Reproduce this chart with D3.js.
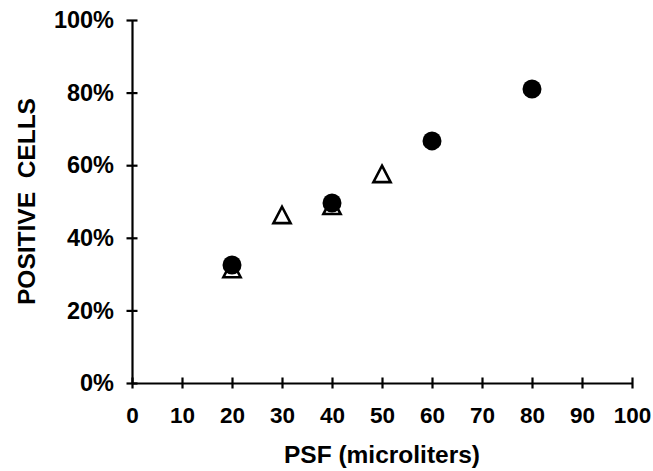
<!DOCTYPE html>
<html>
<head>
<meta charset="utf-8">
<script src="https://cdn.jsdelivr.net/npm/d3@7"></script>
<style>
  html, body { margin: 0; padding: 0; background: #fff; }
  text { font-family: "Liberation Sans", Arial, Helvetica, sans-serif; font-weight: bold; fill: #000; }
</style>
</head>
<body>
<svg id="chart" width="653" height="471"></svg>
<script>
// Data
const xTicks = [0, 10, 20, 30, 40, 50, 60, 70, 80, 90, 100];
const yTicks = [0, 20, 40, 60, 80, 100];
const circleX = [20, 40, 60, 80];
const circleY = [32.5, 49.6, 66.7, 81.0];
const triangleX = [20, 30, 40, 50];
const triangleY = [31.4, 46.3, 48.8, 57.6];
const xTitle = "PSF (microliters)";
const yTitle = "POSITIVE  CELLS";

const svg = d3.select("#chart");
const x = d3.scaleLinear().domain([0, 100]).range([132, 632]);
const y = d3.scaleLinear().domain([0, 100]).range([383, 20]);

// X axis
const xAxis = svg.append("g").attr("transform", `translate(0,${y(0)})`)
  .call(d3.axisBottom(x).tickValues(xTicks).tickSizeInner(0).tickSizeOuter(0).tickPadding(0).tickFormat(d3.format("d")));
xAxis.select(".domain").attr("stroke", "#000").attr("stroke-width", 2.2);
xAxis.selectAll(".tick line").attr("y1", -5.5).attr("y2", 5.5).attr("stroke", "#000").attr("stroke-width", 2.2);
xAxis.selectAll(".tick text").attr("y", 40).attr("dy", 0).style("font-size", "22.5px").attr("fill", "#000");

// Y axis
const yAxis = svg.append("g").attr("transform", `translate(${x(0)},0)`)
  .call(d3.axisLeft(y).tickValues(yTicks).tickSizeInner(0).tickSizeOuter(0).tickPadding(0).tickFormat(d => d + "%"));
yAxis.select(".domain").attr("stroke", "#000").attr("stroke-width", 2.2);
yAxis.selectAll(".tick line").attr("x1", -5.5).attr("x2", 5.5).attr("stroke", "#000").attr("stroke-width", 2.2);
yAxis.selectAll(".tick text").attr("x", -18).attr("dy", "0.33em").style("font-size", "23.5px").attr("fill", "#000");

// Titles
svg.append("text").attr("x", (x(0) + x(100)) / 2).attr("y", 463)
  .attr("text-anchor", "middle").style("font-size", "24.5px").text(xTitle);
svg.append("text").attr("transform", `translate(35,${(y(0) + y(100)) / 2}) rotate(-90)`)
  .attr("text-anchor", "middle").style("font-size", "24.5px").style("white-space", "pre").text(yTitle);

// Triangles (open)
const triPath = "M0,-8.2L8.6,8.2L-8.6,8.2Z";
svg.append("g").selectAll("path").data(triangleX.map((d, i) => [d, triangleY[i]])).join("path")
  .attr("d", triPath)
  .attr("transform", d => `translate(${x(d[0])},${y(d[1])})`)
  .attr("fill", "#fff").attr("stroke", "#000").attr("stroke-width", 2.6).attr("stroke-linejoin", "miter");

// Circles (filled)
svg.append("g").selectAll("circle").data(circleX.map((d, i) => [d, circleY[i]])).join("circle")
  .attr("cx", d => x(d[0])).attr("cy", d => y(d[1])).attr("r", 9.5).attr("fill", "#000");
</script>
</body>
</html>
